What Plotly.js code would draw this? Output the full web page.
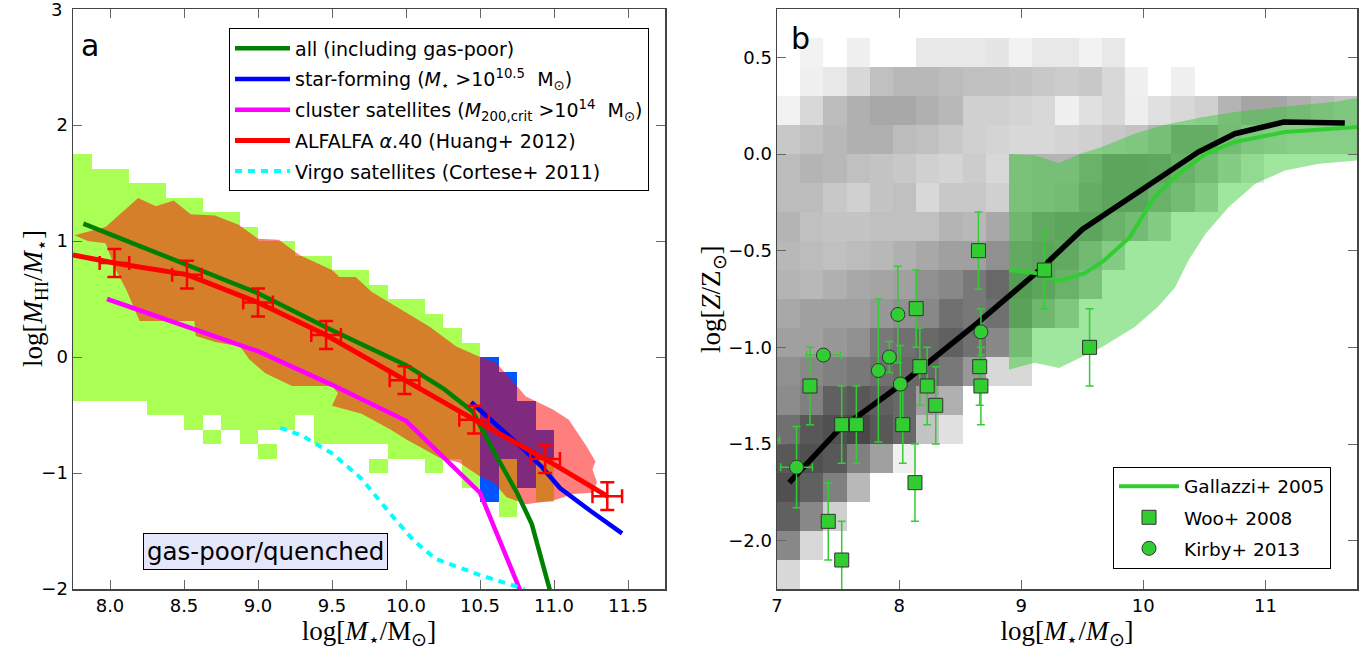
<!DOCTYPE html>
<html><head><meta charset="utf-8">
<script src="https://cdn.plot.ly/plotly-3.0.1.min.js"></script>
<style>body{margin:0;background:#fff}#chart{width:1366px;height:653px}</style>
</head><body><div id="chart"></div>
<script>
// ---------------- Panel a data ----------------
// gas-rich galaxies ("all"), 2D histogram occupied cells: column start, low, high
const greenSegX  = [7.75,7.875,8.0,8.125,8.25,8.375,8.5,8.625,8.625,8.75,8.875,9.0,9.0,9.125,9.25,9.375,9.5,9.625,9.75,9.75,9.875,10.0,10.125,10.25,10.375,10.625,10.875];
const greenSegLo = [-0.375,-0.375,-0.375,-0.375,-0.5,-0.5,-0.625,-0.5,-0.75,-0.625,-0.75,-0.625,-0.875,-0.625,-0.5,-0.75,-0.75,-0.75,-0.75,-1.0,-0.875,-0.875,-1.0,-0.875,-1.125,-1.375,-1.25];
const greenSegHi = [1.75,1.625,1.625,1.5,1.5,1.375,1.375,1.25,-0.625,1.25,1.125,1.0,-0.75,1.0,0.875,0.875,0.75,0.75,0.625,-0.875,0.5,0.5,0.375,0.25,0.125,-0.875,-0.875];
// star-forming massive galaxies, occupied cells
const blueSegX  = [10.5,10.625,10.75,10.875];
const blueSegLo = [-1.25,-0.875,-1.125,-0.875];
const blueSegHi = [0.0,-0.125,-0.375,-0.625];
// ALFALFA distribution outline
const alfaRegionX = [7.76,7.97,8.19,8.31,8.43,8.545,8.71,8.87,9.0,9.14,9.28,9.5,9.55,9.66,9.77,10.0,10.16,10.34,10.5,10.61,10.81,10.99,11.1,11.22,11.28,11.26,11.29,11.26,11.13,10.99,10.81,10.68,10.59,10.5,10.36,10.23,10.0,9.9,9.7,9.5,9.54,9.5,9.23,9.05,8.94,8.88,8.71,8.58,8.57,8.2,8.11,8.04,7.97,7.85];
const alfaRegionY = [1.05,1.12,1.37,1.30,1.35,1.23,1.22,1.14,1.02,1.01,0.88,0.75,0.69,0.69,0.56,0.38,0.26,0.09,0.0,-0.05,-0.34,-0.45,-0.54,-0.77,-0.9,-0.97,-1.08,-1.17,-1.18,-1.24,-1.27,-1.21,-1.08,-1.03,-0.91,-0.87,-0.71,-0.63,-0.49,-0.42,-0.31,-0.25,-0.25,-0.14,-0.02,0.09,0.13,0.18,0.31,0.31,0.58,0.75,0.98,1.0];
// lines
const allX = [7.82,8.0,8.5,9.0,9.5,10.0,10.25,10.45,10.6,10.75,10.85,10.97,11.0];
const allY = [1.15,1.06,0.81,0.55,0.23,-0.07,-0.27,-0.47,-0.83,-1.17,-1.44,-2.0,-2.2];
const sfX = [10.44,10.63,10.8,10.92,11.04,11.25,11.46];
const sfY = [-0.39,-0.6,-0.8,-0.95,-1.13,-1.33,-1.52];
const clusterX = [7.98,8.5,9.0,9.5,10.0,10.5,10.77,10.8];
const clusterY = [0.5,0.27,0.05,-0.24,-0.55,-1.17,-2.0,-2.1];
const alfaLineX = [7.75,8.03,8.52,9.0,9.46,9.99,10.46,10.94,11.36];
const alfaLineY = [0.88,0.81,0.71,0.47,0.19,-0.2,-0.54,-0.88,-1.2];
const alfaPtX = [8.03,8.52,9.0,9.46,9.99,10.46,10.94,11.36];
const alfaPtY = [0.81,0.71,0.47,0.19,-0.2,-0.54,-0.88,-1.2];
const alfaXerr = [0.1,0.1,0.1,0.1,0.1,0.1,0.1,0.1];
const alfaYerr = [0.12,0.12,0.12,0.12,0.12,0.12,0.12,0.12];
const virgoX = [9.15,9.3,9.5,9.7,9.9,10.05,10.2,10.5,10.75,10.8];
const virgoY = [-0.61,-0.68,-0.83,-1.05,-1.36,-1.58,-1.74,-1.88,-1.98,-2.0];
const yTicksA = [-2,-1,0,1,2];
const yTickTextA = ['−2','−1','0','1','2'];
const yTopTickA = 3;

// ---------------- Panel b data ----------------
const grayMass = [7.095,7.285,7.475,7.665,7.855,8.045,8.235,8.425,8.615,8.805,8.995,9.185,9.375,9.565,9.755,9.945,10.135,10.325,10.515,10.705,10.895,11.085,11.275,11.465,11.655];
const grayMetal = [0.675,0.525,0.375,0.225,0.075,-0.075,-0.225,-0.375,-0.525,-0.675,-0.825,-0.975,-1.125,-1.275,-1.425,-1.575,-1.725,-1.875,-2.025,-2.175];
const grayDensity = [
 [0,0,0,0,0,0,0,0,0,0,0,0,0,0,0,0,0,0,0,0,0,0,0,0,0],
 [0,13,0,15,0,0,23,23,23,26,13,23,23,13,23,0,0,0,0,0,0,0,0,0,0],
 [0,15,23,39,63,71,71,67,63,63,59,55,51,55,39,15,0,15,0,0,0,0,0,0,0],
 [13,39,67,79,87,87,79,71,47,47,43,39,15,31,39,17,31,39,47,75,90,90,80,70,60],
 [55,63,71,79,79,67,63,55,47,43,39,39,43,47,55,60,75,110,110,80,60,50,45,45,45],
 [67,75,71,63,59,55,47,43,51,39,70,75,75,100,125,125,120,100,80,50,25,0,0,0,0],
 [67,67,55,47,59,63,39,55,55,47,70,75,80,110,125,125,100,80,50,0,0,0,0,0,0],
 [75,63,59,59,63,63,63,75,71,87,90,115,125,125,100,80,50,0,0,0,0,0,0,0,0],
 [71,67,63,67,71,79,87,95,95,111,115,125,115,85,50,0,0,0,0,0,0,0,0,0,0],
 [75,71,79,87,91,95,111,119,135,151,140,125,100,70,0,0,0,0,0,0,0,0,0,0,0],
 [87,95,95,95,103,111,119,143,135,143,130,90,60,0,0,0,0,0,0,0,0,0,0,0,0],
 [95,95,103,111,135,143,151,159,143,119,80,0,0,0,0,0,0,0,0,0,0,0,0,0,0],
 [111,119,127,135,143,151,151,135,103,39,39,0,0,0,0,0,0,0,0,0,0,0,0,0,0],
 [115,127,159,167,159,151,95,79,0,0,0,0,0,0,0,0,0,0,0,0,0,0,0,0,0],
 [143,167,175,183,167,151,60,30,0,0,0,0,0,0,0,0,0,0,0,0,0,0,0,0,0],
 [167,175,167,127,95,15,0,0,0,0,0,0,0,0,0,0,0,0,0,0,0,0,0,0,0],
 [175,159,127,71,0,0,0,0,0,0,0,0,0,0,0,0,0,0,0,0,0,0,0,0,0],
 [159,119,47,0,0,0,0,0,0,0,0,0,0,0,0,0,0,0,0,0,0,0,0,0,0],
 [119,39,0,0,0,0,0,0,0,0,0,0,0,0,0,0,0,0,0,0,0,0,0,0,0],
 [39,0,0,0,0,0,0,0,0,0,0,0,0,0,0,0,0,0,0,0,0,0,0,0,0]
];
const gallUpperX = [8.9,9.11,9.31,9.49,9.66,9.93,10.15,10.48,10.75,11.16,11.57,11.75];
const gallUpperY = [0.0,-0.007,-0.047,0.002,0.036,0.105,0.148,0.19,0.217,0.246,0.27,0.29];
const gallLowerX = [11.75,11.44,11.16,10.92,10.70,10.51,10.37,10.26,10.12,9.93,9.66,9.31,9.11,8.9];
const gallLowerY = [-0.033,-0.05,-0.085,-0.153,-0.274,-0.412,-0.55,-0.69,-0.79,-0.895,-0.999,-1.107,-1.08,-1.116];
const gallX = [8.9,9.12,9.31,9.52,9.68,9.89,10.09,10.29,10.51,10.75,11.16,11.75];
const gallY = [-0.6,-0.616,-0.657,-0.616,-0.55,-0.43,-0.223,-0.102,0.0,0.062,0.114,0.14];
const simX = [7.1,7.5,8.0,8.65,9.15,9.5,10.0,10.45,10.75,11.15,11.65];
const simY = [-1.70,-1.43,-1.2,-0.87,-0.6,-0.39,-0.18,0.01,0.105,0.165,0.16];
const wooX = [7.27,7.42,7.53,7.53,7.65,8.03,8.13,8.14,8.17,8.23,8.30,8.65,8.66,8.67,9.19,9.56];
const wooY = [-1.2,-1.9,-1.4,-2.1,-1.4,-1.4,-1.7,-0.8,-1.1,-1.2,-1.3,-0.5,-1.1,-1.2,-0.6,-1.0];
const wooYerr = [0.2,0.2,0.2,0.2,0.2,0.2,0.2,0.2,0.2,0.2,0.2,0.2,0.2,0.2,0.2,0.2];
const kirbyX = [6.85,7.16,7.38,7.83,7.92,7.99,8.01,8.67];
const kirbyY = [-1.48,-1.62,-1.04,-1.12,-1.05,-0.83,-1.19,-0.92];
const kirbyXerr = [0.17,0.13,0.14,0,0,0,0,0];
const kirbyYerr = [0.05,0.21,0.02,0.37,0.08,0.25,0.2,0.12];

// ---------------- build grids ----------------
function buildGrid(x0, step, nx, y0, ny, segX, segLo, segHi) {
  const xc = [], yc = [];
  for (let i = 0; i < nx; i++) xc.push(x0 + step * (i + 0.5));
  for (let j = 0; j < ny; j++) yc.push(y0 + step * (j + 0.5));
  const z = yc.map(() => xc.map(() => null));
  segX.forEach((sx, k) => {
    const i = Math.round((sx - x0) / step);
    for (let j = 0; j < ny; j++) if (yc[j] > segLo[k] && yc[j] < segHi[k]) z[j][i] = 1;
  });
  return {xc, yc, z};
}
const gGrid = buildGrid(7.75, 0.125, 26, -1.5, 26, greenSegX, greenSegLo, greenSegHi);
const bGrid = buildGrid(7.75, 0.125, 26, -1.5, 26, blueSegX, blueSegLo, blueSegHi);
const grayZ = grayDensity.map(r => r.map(v => v > 0 ? v : null));

const LG = 'limegreen';
const traces = [
  {type:'heatmap', x:gGrid.xc, y:gGrid.yc, z:gGrid.z, colorscale:[[0,'#aaff55'],[1,'#aaff55']], zmin:0, zmax:1, showscale:false, hoverinfo:'skip', xaxis:'x', yaxis:'y'},
  {type:'heatmap', x:bGrid.xc, y:bGrid.yc, z:bGrid.z, colorscale:[[0,'#0055ff'],[1,'#0055ff']], zmin:0, zmax:1, showscale:false, hoverinfo:'skip', xaxis:'x', yaxis:'y'},
  {type:'heatmap', x:grayMass, y:grayMetal, z:grayZ, colorscale:[[0,'#ffffff'],[1,'#000000']], zmin:0, zmax:255, showscale:false, hoverinfo:'skip', xaxis:'x2', yaxis:'y2'},
  {type:'scatter', x:alfaRegionX, y:alfaRegionY, fill:'toself', fillcolor:'rgba(255,0,0,0.5)', mode:'lines', line:{width:0}, showlegend:false, hoverinfo:'skip', xaxis:'x', yaxis:'y'},
  {type:'scatter', x:allX, y:allY, mode:'lines', line:{color:'#008000', width:4.5}, name:'all (including gas-poor)', legend:'legend', legendgroup:'a1', xaxis:'x', yaxis:'y'},
  {type:'scatter', x:sfX, y:sfY, mode:'lines', line:{color:'#0000ff', width:4.5}, name:'star-forming (<i>M</i><sub>⋆</sub> >10<sup>10.5</sup>  M<sub>⊙</sub>)', legend:'legend', legendgroup:'a2', xaxis:'x', yaxis:'y'},
  {type:'scatter', x:clusterX, y:clusterY, mode:'lines', line:{color:'#ff00ff', width:4.5}, name:'cluster satellites (<i>M</i><sub>200,crit</sub> >10<sup>14</sup>  M<sub>⊙</sub>)', legend:'legend', legendgroup:'a3', xaxis:'x', yaxis:'y'},
  {type:'scatter', x:alfaLineX, y:alfaLineY, mode:'lines', line:{color:'#ff0000', width:5}, name:'ALFALFA <i>α</i>.40 (Huang+ 2012)', legend:'legend', legendgroup:'a4', xaxis:'x', yaxis:'y'},
  {type:'scatter', x:alfaPtX, y:alfaPtY, mode:'markers', marker:{size:1, color:'rgba(0,0,0,0)'}, error_x:{type:'data', array:alfaXerr, color:'#ff0000', thickness:2.5, width:7}, error_y:{type:'data', array:alfaYerr, color:'#ff0000', thickness:2.5, width:7}, showlegend:false, hoverinfo:'skip', xaxis:'x', yaxis:'y'},
  {type:'scatter', x:virgoX, y:virgoY, mode:'lines', line:{color:'#00ffff', width:4, dash:'7px,6px'}, name:'Virgo satellites (Cortese+ 2011)', legend:'legend', legendgroup:'a5', xaxis:'x', yaxis:'y'},
  // panel b
  {type:'scatter', x:gallUpperX.concat(gallLowerX), y:gallUpperY.concat(gallLowerY), fill:'toself', fillcolor:'rgba(50,205,50,0.47)', mode:'lines', line:{width:0}, showlegend:false, hoverinfo:'skip', xaxis:'x2', yaxis:'y2'},
  {type:'scatter', x:simX, y:simY, mode:'lines', line:{color:'#000000', width:5.5}, showlegend:false, xaxis:'x2', yaxis:'y2'},
  {type:'scatter', x:gallX, y:gallY, mode:'lines', line:{color:LG, width:4}, name:'Gallazzi+ 2005', legend:'legend2', legendgroup:'b1', xaxis:'x2', yaxis:'y2'},
  {type:'scatter', x:wooX, y:wooY, mode:'markers', marker:{symbol:'square', size:14, color:LG, line:{color:'#333', width:1}}, error_y:{type:'data', array:wooYerr, color:LG, thickness:1.5, width:4}, name:'Woo+ 2008', legend:'legend2', legendgroup:'b2', xaxis:'x2', yaxis:'y2'},
  {type:'scatter', x:kirbyX, y:kirbyY, mode:'markers', marker:{symbol:'circle', size:14, color:LG, line:{color:'#333', width:1}}, error_y:{type:'data', array:kirbyYerr, color:LG, thickness:1.5, width:4}, error_x:{type:'data', array:kirbyXerr, color:LG, thickness:1.5, width:4}, name:'Kirby+ 2013', legend:'legend2', legendgroup:'b3', xaxis:'x2', yaxis:'y2'}
];

const tickFont = {family:'DejaVu Sans', size:18, color:'#000'};
const titleFont = {family:'Liberation Serif', size:27, color:'#000'};
const axBase = {showgrid:false, zeroline:false, showline:true, linecolor:'#444', linewidth:1.5, mirror:'ticks', ticks:'inside', ticklen:9, tickwidth:1, tickcolor:'#666', tickfont:tickFont};

const layout = {
  width:1366, height:653,
  margin:{l:0, r:0, t:8.5, b:63.5},
  paper_bgcolor:'#fff', plot_bgcolor:'#fff',
  xaxis: Object.assign({}, axBase, {domain:[73/1366, 665/1366], range:[7.75,11.75], anchor:'y',
    tickvals:[8,8.5,9,9.5,10,10.5,11,11.5], ticktext:['8.0','8.5','9.0','9.5','10.0','10.5','11.0','11.5'],
    title:{text:'log[<i>M</i><sub>⋆</sub>/M<sub>⊙</sub>]', font:titleFont, standoff:4}}),
  yaxis: Object.assign({}, axBase, {domain:[0,1], range:[-2,3], anchor:'x',
    tickvals:yTicksA.concat([yTopTickA]), ticktext:yTickTextA.concat([''])}),
  xaxis2: Object.assign({}, axBase, {domain:[777/1366, 1357/1366], range:[7,11.75], anchor:'y2',
    tickvals:[7,8,9,10,11], ticktext:['7','8','9','10','11'],
    title:{text:'log[<i>M</i><sub>⋆</sub>/<i>M</i><sub>⊙</sub>]', font:titleFont, standoff:4}}),
  yaxis2: Object.assign({}, axBase, {domain:[0,1], range:[-2.25,0.75], anchor:'x2',
    tickvals:[-2,-1.5,-1,-0.5,0,0.5], ticktext:['−2.0','−1.5','−1.0','−0.5','0.0','0.5']}),
  legend:{x:229/1366, y:1-(28-8.5)/581, xanchor:'left', yanchor:'top', bgcolor:'#fff', bordercolor:'#000', borderwidth:1,
    font:{family:'DejaVu Sans', size:19, color:'#000'}, tracegroupgap:3, itemwidth:55},
  legend2:{x:1113/1366, y:1-(467-8.5)/581, xanchor:'left', yanchor:'top', bgcolor:'#fff', bordercolor:'#000', borderwidth:1,
    font:{family:'DejaVu Sans', size:18.5, color:'#000'}, tracegroupgap:4, itemwidth:60},
  annotations:[
    {xref:'paper', yref:'y', x:64/1366, y:yTopTickA, xanchor:'right', yanchor:'middle', text:String(yTopTickA), showarrow:false, font:tickFont},
    {xref:'paper', yref:'paper', x:35/1366, xanchor:'center', y:0.5, textangle:-90, text:'log[<i>M</i><sub>HI</sub>/<i>M</i><sub>⋆</sub>]', showarrow:false, font:titleFont},
    {xref:'paper', yref:'paper', x:713/1366, xanchor:'center', y:0.5, textangle:-90, text:'log[<i>Z</i>/Z<sub>⊙</sub>]', showarrow:false, font:titleFont},
    {xref:'x', yref:'y', x:7.864, y:2.685, text:'a', showarrow:false, font:{family:'DejaVu Sans', size:30, color:'#000'}},
    {xref:'x2', yref:'y2', x:7.19, y:0.6, text:'b', showarrow:false, font:{family:'DejaVu Sans', size:30, color:'#000'}},
    {xref:'x', yref:'y', x:9.05, y:-1.68, text:'gas-poor/quenched', showarrow:false, font:{family:'DejaVu Sans', size:24.5, color:'#000'},
     bgcolor:'#e6e6fa', bordercolor:'#000', borderwidth:1, borderpad:3}
  ]
};

Plotly.newPlot('chart', traces, layout, {displayModeBar:false, staticPlot:true});
</script>
</body></html>
